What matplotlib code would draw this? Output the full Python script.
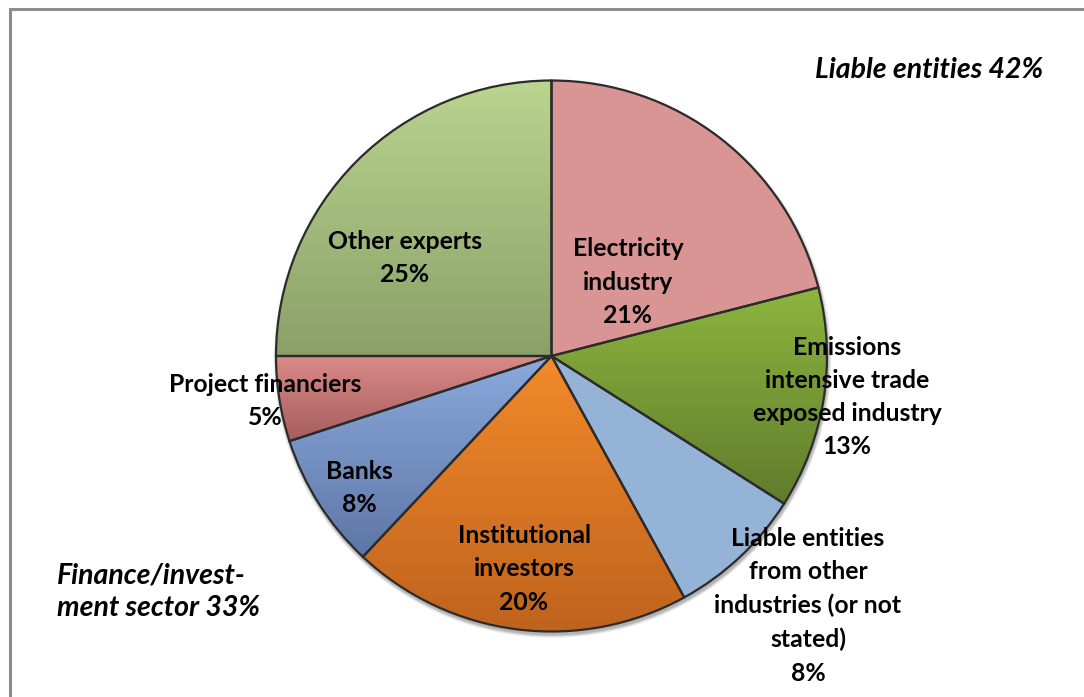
import numpy as np
import matplotlib
matplotlib.use("Agg")
import matplotlib.pyplot as plt
from matplotlib.colors import LinearSegmentedColormap
from matplotlib.patches import Circle

# Survey respondents by sector (percent of all respondents)
sectors = [
    "Electricity\nindustry",
    "Emissions\nintensive trade\nexposed industry",
    "Liable entities\nfrom other\nindustries (or not\nstated)",
    "Institutional\ninvestors",
    "Banks",
    "Project financiers",
    "Other experts",
]
shares = [21, 13, 8, 20, 8, 5, 25]

# fill colours: (top, bottom) of each wedge's vertical gradient
top_colors = ["#D99594", "#8DB53F", "#95B3D7", "#F38A2A", "#8BA9DD", "#DB8B89", "#B9D58F"]
bottom_colors = ["#D99594", "#5F7C2C", "#95B3D7", "#BE621D", "#5E76A6", "#A55E5D", "#8BA068"]

group_labels = ["Liable entities 42%", "Finance/invest-\nment sector 33%"]

W, H = 1084, 697
fig = plt.figure(figsize=(W / 100, H / 100), dpi=100)
ax = fig.add_axes([0, 0, 1, 1])
ax.set_xlim(0, W)
ax.set_ylim(0, H)
ax.set_aspect("equal")
ax.axis("off")

plt.rcParams["font.family"] = ["Lato", "DejaVu Sans"]

cx, cy, R = 551.5, H - 356, 275.5

# soft shadow under the pie
for k, a in zip(range(6, 0, -1), [0.03, 0.04, 0.05, 0.06, 0.07, 0.08]):
    ax.add_patch(Circle((cx + 1, cy - 3), R + k * 0.6, color="black", alpha=a,
                        lw=0, zorder=0.5))
ax.add_patch(Circle((cx, cy), R, color="white", lw=0, zorder=0.9))

wedges, _ = ax.pie(shares, startangle=90, counterclock=False, center=(cx, cy),
                   radius=R, frame=True,
                   wedgeprops=dict(facecolor="none", edgecolor="#2b2b2b",
                                   linewidth=1.6, zorder=3))
ax.set_xlim(0, W)
ax.set_ylim(0, H)
ax.axis("off")

for w, c0, c1 in zip(wedges, top_colors, bottom_colors):
    verts = w.get_path().vertices
    y0, y1 = verts[:, 1].min(), verts[:, 1].max()
    x0, x1 = verts[:, 0].min(), verts[:, 0].max()
    cmap = LinearSegmentedColormap.from_list("g", [c1, c0])
    grad = np.linspace(0, 1, 256).reshape(-1, 1)
    im = ax.imshow(grad, cmap=cmap, origin="lower", aspect="auto",
                   extent=(x0, x1, y0, y1), zorder=2, interpolation="bilinear")
    im.set_clip_path(w)

# data label centres in pixel coordinates (x, y from top)
label_pos = [(628, 282), (847, 397), (808, 606), (524, 569), (359, 488),
             (265, 401), (405, 258)]
for name, v, (lx, ly) in zip(sectors, shares, label_pos):
    ax.text(lx, H - ly, f"{name}\n{v}%", ha="center", va="center",
            fontsize=17.8, fontweight="bold", color="black",
            linespacing=1.54, zorder=5)

ax.text(1043, H - 70, group_labels[0], ha="right", va="center", fontsize=20.5,
        fontweight="bold", style="italic", zorder=5)
ax.text(57, H - 592, group_labels[1], ha="left", va="center", fontsize=20.5,
        fontweight="bold", style="italic", linespacing=1.3, zorder=5)

# outer frame, open to the right and bottom
ax.plot([10, 10, W + 5], [-5, H - 9, H - 9], color="#8c8c8c", lw=2.2,
        solid_joinstyle="miter", zorder=1, clip_on=False)

fig.savefig("out.png", dpi=100)
